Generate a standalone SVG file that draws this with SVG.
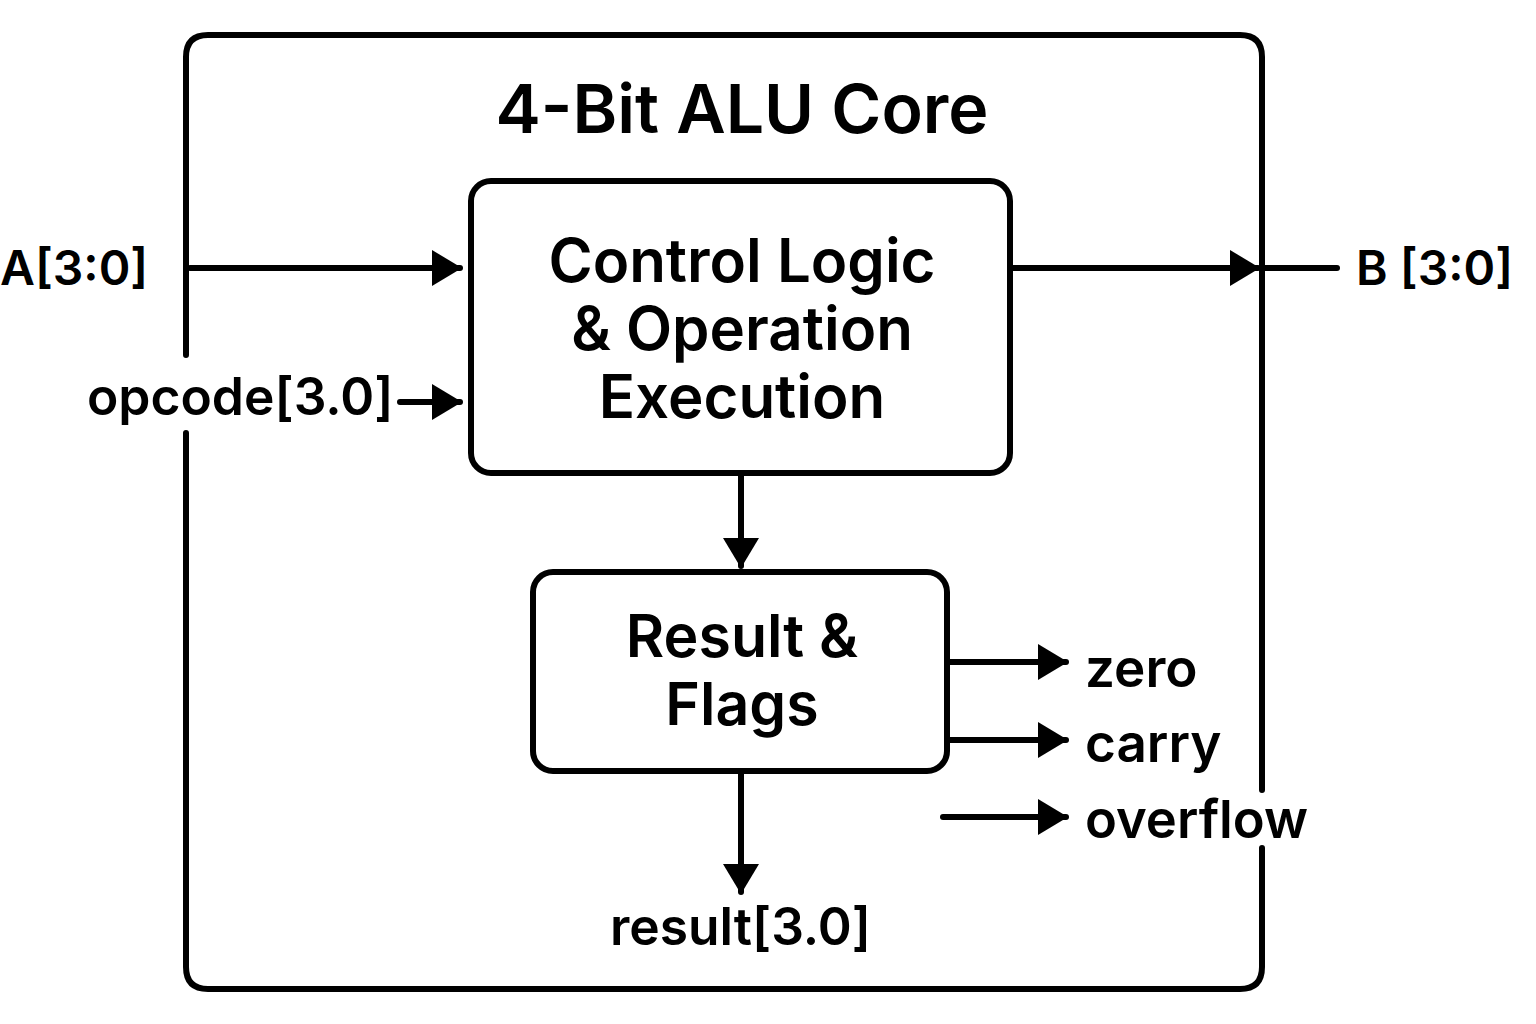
<svg xmlns="http://www.w3.org/2000/svg" width="1536" height="1024" viewBox="0 0 1536 1024">
<style>
.box{fill:none;stroke:#000;stroke-width:6;}
.ln{fill:none;stroke:#000;stroke-width:6;stroke-linecap:round;}
.t{font-family:Inter,"Liberation Sans",sans-serif;font-weight:600;fill:#000;text-anchor:middle;}
.lbl{font-family:Inter,"Liberation Sans",sans-serif;font-weight:600;fill:#000;}
</style>
<defs>
<marker id="ah" markerWidth="30" markerHeight="36" refX="28" refY="18" markerUnits="userSpaceOnUse" orient="auto">
<path d="M0,0 L30,18 L0,36 Z" fill="#000"/>
</marker>
</defs>
<rect width="1536" height="1024" fill="#fff"/>
<g id="outer">
<path class="ln" d="M186,355 V57 Q186,35 208,35 H1240 Q1262,35 1262,57 V790 M1262,848 V967 Q1262,989 1240,989 H208 Q186,989 186,967 V433"/>
<text class="t" x="742" y="133" font-size="68">4-Bit ALU Core</text>
</g>
<g id="control">
<rect class="box" x="471" y="181" width="539" height="292" rx="20"/>
<text class="t" x="742" y="282" font-size="60">Control Logic</text>
<text class="t" x="742" y="350" font-size="60">&amp; Operation</text>
<text class="t" x="742" y="418" font-size="60">Execution</text>
</g>
<g id="result">
<rect class="box" x="533" y="572" width="414" height="199" rx="20"/>
<text class="t" x="742" y="657" font-size="59">Result &amp;</text>
<text class="t" x="742" y="725" font-size="59">Flags</text>
</g>
<g id="labels">
<text class="lbl" x="0" y="285" font-size="48">A[3:0]</text>
<text class="lbl" x="87" y="415" font-size="51.5">opcode[3.0]</text>
<text class="lbl" x="1356" y="285" font-size="48">B [3:0]</text>
<text class="lbl" x="1085" y="687" font-size="53">zero</text>
<text class="lbl" x="1085" y="762" font-size="53">carry</text>
<text class="lbl" x="1085" y="838" font-size="52.5">overflow</text>
<text class="lbl" x="610" y="945" font-size="51.5">result[3.0]</text>
</g>
<g id="connectors">
<path class="ln" d="M190,268 H460" marker-end="url(#ah)"/>
<path class="ln" d="M400,402 H460" marker-end="url(#ah)"/>
<path class="ln" d="M1012,268 H1258" marker-end="url(#ah)"/>
<path class="ln" d="M1262,268 H1337"/>
<path class="ln" d="M741,476 V566" marker-end="url(#ah)"/>
<path class="ln" d="M947,662 H1066" marker-end="url(#ah)"/>
<path class="ln" d="M947,740 H1066" marker-end="url(#ah)"/>
<path class="ln" d="M943,817 H1066" marker-end="url(#ah)"/>
<path class="ln" d="M741,773 V892" marker-end="url(#ah)"/>
</g>
</svg>
